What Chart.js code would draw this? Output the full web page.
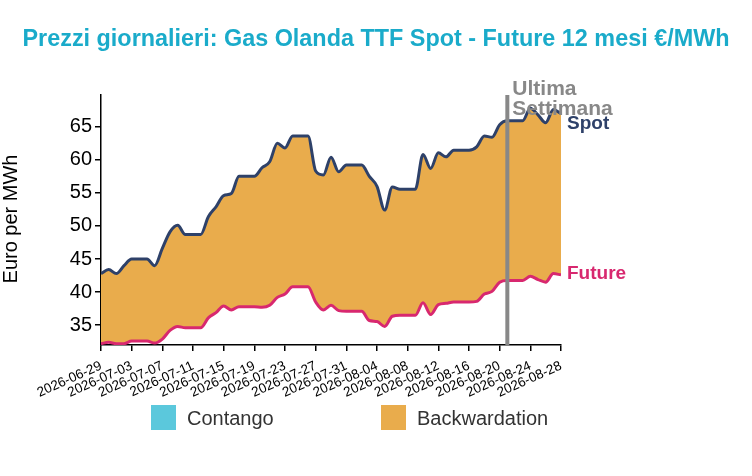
<!DOCTYPE html>
<html>
<head>
<meta charset="utf-8">
<script src="https://cdn.jsdelivr.net/npm/chart.js@4.4.1/dist/chart.umd.min.js"></script>
<style>
html,body{margin:0;padding:0;background:#fff;}
#wrap{width:752px;height:476px;}
</style>
</head>
<body>
<div id="wrap"><canvas id="c" width="752" height="476"></canvas></div>
<script>
const TITLE = 'Prezzi giornalieri: Gas Olanda TTF Spot - Future 12 mesi €/MWh';
const Y_TITLE = 'Euro per MWh';
const LAST_WEEK_DATE = '2026-08-21';
const LAST_WEEK_LABEL = ['Ultima', 'Settimana'];
const LEGEND_LABELS = ['Contango', 'Backwardation'];

const dates = [
 '2026-06-29','2026-06-30','2026-07-01','2026-07-02','2026-07-03','2026-07-04','2026-07-05','2026-07-06',
 '2026-07-07','2026-07-08','2026-07-09','2026-07-10','2026-07-11','2026-07-12','2026-07-13','2026-07-14',
 '2026-07-15','2026-07-16','2026-07-17','2026-07-18','2026-07-19','2026-07-20','2026-07-21','2026-07-22',
 '2026-07-23','2026-07-24','2026-07-25','2026-07-26','2026-07-27','2026-07-28','2026-07-29','2026-07-30',
 '2026-07-31','2026-08-01','2026-08-02','2026-08-03','2026-08-04','2026-08-05','2026-08-06','2026-08-07',
 '2026-08-08','2026-08-09','2026-08-10','2026-08-11','2026-08-12','2026-08-13','2026-08-14','2026-08-15',
 '2026-08-16','2026-08-17','2026-08-18','2026-08-19','2026-08-20','2026-08-21','2026-08-22','2026-08-23',
 '2026-08-24','2026-08-25','2026-08-26','2026-08-27','2026-08-28'
];

const spot = [
 42.8, 43.4, 42.8, 44.0, 45.0, 45.0, 45.0, 44.0, 46.6, 49.1, 50.1, 48.7, 48.7, 48.7, 51.4, 52.9,
 54.6, 54.9, 57.5, 57.5, 57.5, 58.8, 59.7, 62.5, 61.8, 63.6, 63.6, 63.6, 58.3, 57.7, 60.4, 58.2,
 59.2, 59.2, 59.2, 57.5, 56.0, 52.4, 55.9, 55.55, 55.55, 55.55, 60.8, 58.7, 61.05, 60.45, 61.45, 61.45,
 61.45, 61.96, 63.6, 63.4, 65.3, 65.9, 65.9, 65.9, 67.8, 66.8, 65.6, 67.6, 67.0
];

const future = [
 32.2, 32.4, 32.2, 32.2, 32.6, 32.6, 32.6, 32.3, 32.9, 34.2, 34.8, 34.6, 34.6, 34.6, 36.1, 36.9,
 37.9, 37.3, 37.8, 37.8, 37.8, 37.7, 38.0, 39.2, 39.7, 40.8, 40.8, 40.8, 38.5, 37.3, 38.0, 37.2,
 37.1, 37.1, 37.1, 35.7, 35.55, 34.8, 36.35, 36.5, 36.5, 36.5, 38.4, 36.6, 38.1, 38.3, 38.5, 38.5,
 38.5, 38.6, 39.7, 40.1, 41.5, 41.76, 41.76, 41.76, 42.4, 41.9, 41.5, 42.8, 42.6
];

const yTicks = [35, 40, 45, 50, 55, 60, 65];
const Y_MIN = 32.0, Y_MAX = 69.8;
const X_TICK_STEP = 4;

const C_SPOT = '#2e4169';
const C_FUT = '#d8286f';
const C_BACK = '#e9ac4c';
const C_CONT = '#5bc8dc';
const C_TITLE = '#1aabca';
const FONT = '"Liberation Sans", Arial, sans-serif';

const toPts = arr => arr.map((v, i) => ({x: i, y: v}));

const overlay = {
  id: 'overlay',
  afterDatasetsDraw(chart) {
    const {ctx, chartArea: a, scales: {x}} = chart;
    ctx.save();
    const vx = x.getPixelForValue(dates.indexOf(LAST_WEEK_DATE));
    ctx.strokeStyle = '#888';
    ctx.lineWidth = 4;
    ctx.beginPath();
    ctx.moveTo(vx, a.top);
    ctx.lineTo(vx, a.bottom);
    ctx.stroke();
    ctx.restore();
  },
  afterDraw(chart) {
    const {ctx, chartArea: a, scales: {x, y}} = chart;
    ctx.save();
    ctx.font = 'bold 23.4px ' + FONT;
    ctx.fillStyle = C_TITLE;
    ctx.textAlign = 'center';
    ctx.textBaseline = 'alphabetic';
    ctx.fillText(TITLE, 376, 46);
    ctx.save();
    ctx.translate(17, 219);
    ctx.rotate(-Math.PI / 2);
    ctx.font = '20px ' + FONT;
    ctx.fillStyle = '#000';
    ctx.textAlign = 'center';
    ctx.fillText(Y_TITLE, 0, 0);
    ctx.restore();
    const vx = x.getPixelForValue(dates.indexOf(LAST_WEEK_DATE));
    ctx.font = 'bold 21px ' + FONT;
    ctx.fillStyle = '#888';
    ctx.textAlign = 'left';
    ctx.fillText(LAST_WEEK_LABEL[0], vx + 5, a.top);
    ctx.fillText(LAST_WEEK_LABEL[1], vx + 5, a.top + 20);
    const n = spot.length - 1;
    ctx.font = 'bold 19px ' + FONT;
    ctx.fillStyle = C_SPOT;
    ctx.fillText('Spot', a.right + 6, y.getPixelForValue(spot[n]) + 15);
    ctx.fillStyle = C_FUT;
    ctx.fillText('Future', a.right + 6, y.getPixelForValue(future[n]) + 4);
    ctx.fillStyle = C_CONT;
    ctx.fillRect(151, 405, 25, 25);
    ctx.fillStyle = C_BACK;
    ctx.fillRect(381, 405, 25, 25);
    ctx.font = '20px ' + FONT;
    ctx.fillStyle = '#333';
    ctx.fillText(LEGEND_LABELS[0], 187, 425);
    ctx.fillText(LEGEND_LABELS[1], 417, 425);
    ctx.restore();
  }
};

new Chart(document.getElementById('c'), {
  type: 'line',
  data: {
    datasets: [
      {
        label: 'Spot',
        data: toPts(spot),
        borderColor: C_SPOT,
        borderWidth: 3,
        pointRadius: 0,
        cubicInterpolationMode: 'monotone',
        fill: {target: '+1', above: C_BACK, below: C_CONT}
      },
      {
        label: 'Future',
        data: toPts(future),
        borderColor: C_FUT,
        borderWidth: 3,
        pointRadius: 0,
        cubicInterpolationMode: 'monotone',
        fill: false
      }
    ]
  },
  options: {
    responsive: false,
    animation: false,
    devicePixelRatio: 1,
    layout: {padding: {left: 0, top: 95, right: 191, bottom: 0}},
    plugins: {
      legend: {display: false},
      tooltip: {enabled: false},
      title: {display: false},
      filler: {drawTime: 'beforeDatasetsDraw'}
    },
    scales: {
      x: {
        type: 'linear',
        min: 0,
        max: dates.length - 1,
        grid: {drawOnChartArea: false, drawTicks: true, tickLength: 6, color: '#000', lineWidth: 1.5},
        border: {display: true, color: '#000', width: 1.5},
        ticks: {
          stepSize: X_TICK_STEP,
          autoSkip: false,
          maxRotation: 24,
          minRotation: 24,
          padding: 7,
          color: '#000',
          font: {family: FONT, size: 13.5},
          callback: v => dates[v] || ''
        },
        afterFit: s => { s.height = 131; }
      },
      y: {
        type: 'linear',
        min: Y_MIN,
        max: Y_MAX,
        grid: {drawOnChartArea: false, drawTicks: true, tickLength: 6, color: '#000', lineWidth: 1.5},
        border: {display: true, color: '#000', width: 1.5},
        afterBuildTicks: s => { s.ticks = yTicks.map(v => ({value: v})); },
        ticks: {
          padding: 3,
          color: '#000',
          font: {family: FONT, size: 20},
          callback: v => String(v)
        },
        afterFit: s => { s.width = 101; }
      }
    }
  },
  plugins: [overlay]
});
</script>
</body>
</html>
